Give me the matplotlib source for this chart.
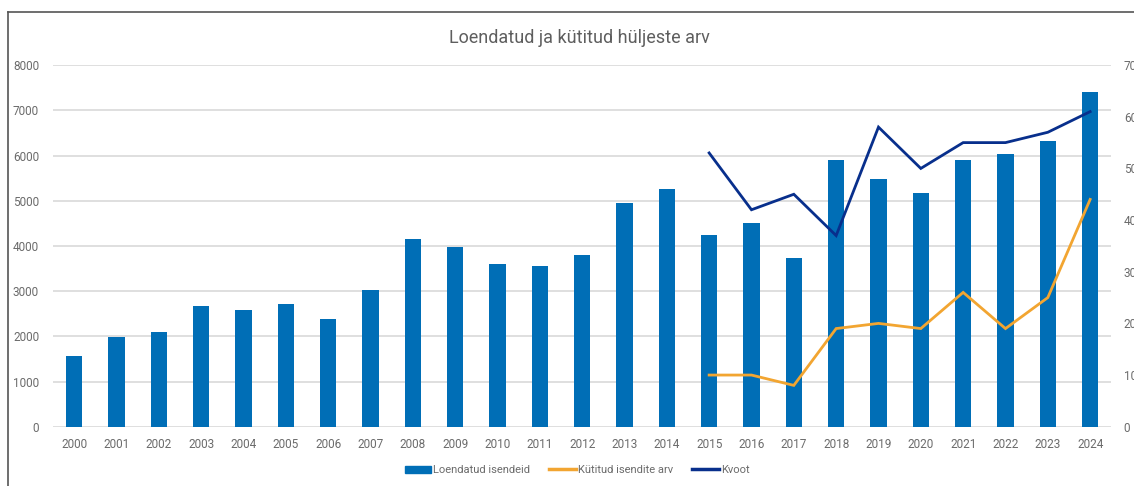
import matplotlib.pyplot as plt
from matplotlib.lines import Line2D
import numpy as np

plt.rcParams["font.family"] = ["Roboto", "DejaVu Sans"]

years = [str(y) for y in range(2000, 2025)]
loendatud = [1560, 1985, 2100, 2670, 2590, 2705, 2390, 3025, 4150, 3980,
             3605, 3550, 3795, 4940, 5265, 4235, 4510, 3740, 5890, 5470,
             5165, 5905, 6035, 6325, 7395]

# kütitud ja kvoot alates 2015
line_years = years[15:]
kytitud = [10, 10, 8, 19, 20, 19, 26, 19, 25, 44]
kvoot = [53, 42, 45, 37, 58, 50, 55, 55, 57, 61]

bar_color = "#006EB6"
orange = "#F2A531"
navy = "#082F8C"
text_color = "#6B6B6B"
grid_color = "#DCDCDC"

fig = plt.figure(figsize=(11.34, 4.86), dpi=100)
ax = fig.add_axes([0.0467, 0.122, 0.9333, 0.744])
ax2 = ax.twinx()

x = np.arange(len(years))
ax.bar(x, loendatud, width=0.39, color=bar_color, zorder=2)

xl = np.array([years.index(y) for y in line_years])
ax2.plot(xl, kytitud, color=orange, lw=2.0, solid_joinstyle="miter")
ax2.plot(xl, kvoot, color=navy, lw=2.0, solid_joinstyle="miter")

ax.set_xlim(-0.5, len(years) - 0.5)
ax.set_ylim(0, 8000)
ax2.set_ylim(0, 70)
ax.set_yticks(range(0, 8001, 1000))
ax2.set_yticks(range(0, 71, 10))
ax.set_xticks(x)
ax.set_xticklabels(years)

ax.grid(axis="y", color=grid_color, lw=1.3, zorder=0)
ax.set_axisbelow(True)
for a in (ax, ax2):
    for s in a.spines.values():
        s.set_visible(False)
    a.tick_params(length=0, labelsize=8.5, colors=text_color)
ax.tick_params(axis="y", pad=10)
ax.tick_params(axis="x", pad=8)
ax2.tick_params(axis="y", pad=9)

fig.text(0.511, 0.922, "Loendatud ja kütitud hüljeste arv", ha="center", va="center",
         fontsize=13, color="#5E5E5E")

handles = [
    plt.Rectangle((0, 0), 1, 1, color=bar_color),
    Line2D([], [], color=orange, lw=2.5),
    Line2D([], [], color=navy, lw=2.5),
]
labels = ["Loendatud isendeid", "Kütitud isendite arv", "Kvoot"]
fig.legend(handles, labels, loc="center", bbox_to_anchor=(0.509, 0.033), ncol=3,
           frameon=False, fontsize=8, labelcolor=text_color, handlelength=2.4,
           handletextpad=0.2, columnspacing=1.7, handleheight=0.6)

# raam ümber graafiku
fig.add_artist(Line2D([0.007, 0.007], [0, 0.975], color="#555555", lw=1.2, transform=fig.transFigure))
fig.add_artist(Line2D([0.007, 1.0], [0.975, 0.975], color="#555555", lw=1.2, transform=fig.transFigure))

fig.savefig("out.png", dpi=100)
